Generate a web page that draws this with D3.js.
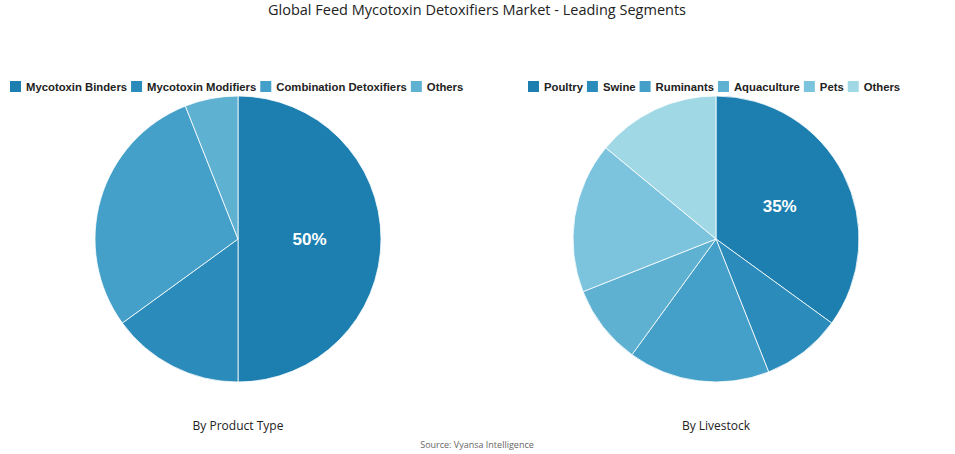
<!DOCTYPE html>
<html><head><meta charset="utf-8">
<script src="https://cdn.jsdelivr.net/npm/d3@7"></script>
<style>body{margin:0;background:#fff;font-family:"Open Sans",sans-serif}</style>
</head><body><svg id="c" width="955" height="454"></svg>
<script>
const productTypes = ["Mycotoxin Binders", "Mycotoxin Modifiers", "Combination Detoxifiers", "Others"];
const productValues = [50, 15, 29, 6];
const livestock = ["Poultry", "Swine", "Ruminants", "Aquaculture", "Pets", "Others"];
const livestockValues = [35, 9, 16, 9, 17, 14];
const palette = ["#1c7fb0", "#2b8cbb", "#44a0c8", "#5fb1d2", "#7cc4dd", "#a0d8e6"];

const svg = d3.select("#c");
svg.append("text").attr("x", 477).attr("y", 15).attr("text-anchor", "middle")
  .attr("font-size", 14.5).attr("fill", "#222").text("Global Feed Mycotoxin Detoxifiers Market - Leading Segments");
svg.append("text").attr("x", 477).attr("y", 448).attr("text-anchor", "middle")
  .attr("font-size", 9).attr("fill", "#666").text("Source: Vyansa Intelligence");

function drawPie(cx, names, values, title, legendX) {
  const pie = d3.pie().sort(null)(values);
  const arc = d3.arc().innerRadius(0).outerRadius(143);
  const g = svg.append("g").attr("transform", `translate(${cx},239)`);
  g.selectAll("path").data(pie).enter().append("path")
    .attr("d", arc).attr("fill", (d, i) => palette[i])
    .attr("stroke", "#fff").attr("stroke-width", 0.8);
  const top = pie[0];
  g.append("text").attr("transform", `translate(${arc.centroid(top)})`)
    .attr("dy", "0.35em").attr("text-anchor", "middle").attr("font-weight", "bold")
    .attr("font-family", "'Liberation Sans',Arial,sans-serif")
    .attr("font-size", 17).attr("fill", "#fff").text(top.data + "%");
  svg.append("text").attr("x", cx).attr("y", 430).attr("text-anchor", "middle")
    .attr("font-size", 12).attr("fill", "#222").text(title);
  let x = legendX;
  names.forEach((n, i) => {
    svg.append("rect").attr("x", x).attr("y", 81).attr("width", 11).attr("height", 11).attr("fill", palette[i]);
    const t = svg.append("text").attr("x", x + 16).attr("y", 91).attr("font-size", 11.3)
      .attr("font-family", "'Liberation Sans',Arial,sans-serif")
      .attr("font-weight", "bold").attr("fill", "#222").text(n);
    x += 16 + t.node().getComputedTextLength() + 4;
  });
}
drawPie(238, productTypes, productValues, "By Product Type", 10);
drawPie(716, livestock, livestockValues, "By Livestock", 528);
</script></body></html>
